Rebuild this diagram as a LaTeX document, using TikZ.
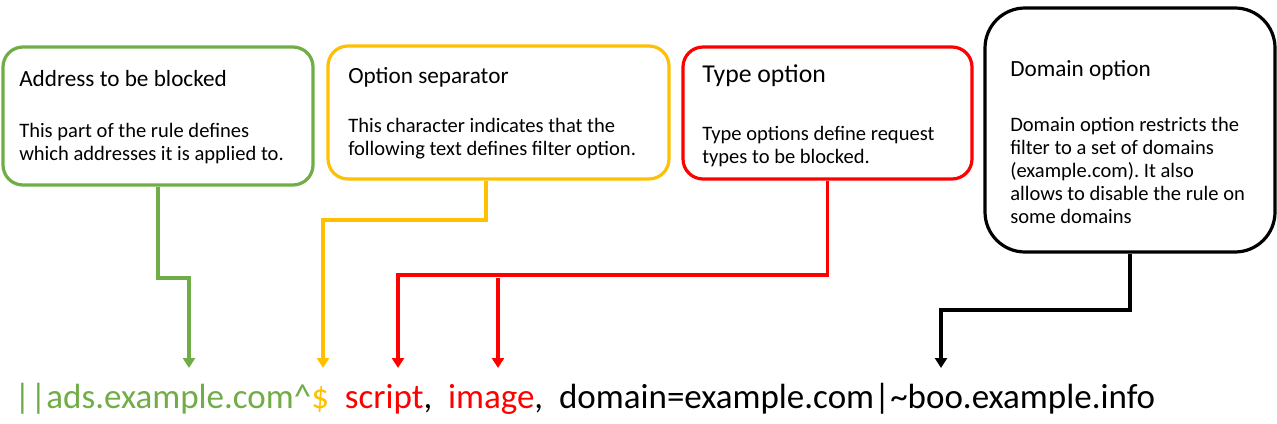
\documentclass[tikz,border=0pt]{standalone}
\usepackage{fontspec}
\setmainfont{Carlito}
\frenchspacing
\usetikzlibrary{arrows.meta}

\definecolor{adgreen}{HTML}{70AD47}
\definecolor{adyellow}{HTML}{FFC000}
\definecolor{adred}{HTML}{FF0000}

\tikzset{partbox/.style = {draw=#1, line width=2.4pt, rounded corners=15pt, inner sep=0pt},
         partbox/.default=black,
         link/.style = {draw=#1, line width=2.6pt, -{Triangle[width=9pt,length=7.5pt]}},
         link/.default=black,
         boxtitle/.style = {anchor=base west, inner sep=0pt, font=\fontsize{17.4}{20}\selectfont},
         boxtext/.style = {anchor=north west, inner sep=0pt, align=left, font=\fontsize{15.4}{17.4}\selectfont}
        }

\begin{document}
\begin{tikzpicture}[x=0.75pt, y=-0.75pt]
\useasboundingbox (0,0) rectangle (1277,424);
\node[partbox=adgreen, minimum width=232.5pt, minimum height=103.5pt] at (158,116) (gbox) {};
\node[partbox=adyellow, minimum width=255.75pt, minimum height=99.75pt] at (498.5,112.5) (ybox) {};
\node[partbox=adred, minimum width=216.75pt, minimum height=99pt] at (827.5,113) (rbox) {};
\node[partbox, rounded corners=30pt, minimum width=217.5pt, minimum height=183pt] at (1130,130) (dbox) {};

\node[boxtitle] at (19,87) (gtitle) {Address to be blocked};
\node[boxtext] at (19,123) (gtext) {This part of the rule defines\\which addresses it is applied to.};
\node[boxtitle] at (348,84) (ytitle) {Option separator};
\node[boxtext] at (348,118) (ytext) {This character indicates that the\\following text defines filter option.};
\node[boxtitle, font=\fontsize{19.3}{22}\selectfont] at (702,83) (rtitle) {Type option};
\node[boxtext] at (702,126) (rtext) {Type options define request\\types to be blocked.};
\node[boxtitle] at (1010,77) (dtitle) {Domain option};
\node[boxtext, font=\fontsize{15.4}{17.25}\selectfont] at (1010,117) (dtext) {Domain option restricts the\\filter to a set of domains\\(example.com). It also\\allows to disable the rule on\\some domains};

% the rule itself
\node[anchor=base west, inner sep=0pt, font=\fontsize{26.25}{30}\selectfont] at (14,408) (rule)
  {\textcolor{adgreen}{||ads.example.com\textasciicircum}\textcolor{adyellow}{\$}\ \ \textcolor{adred}{script},\ \ \textcolor{adred}{image},\ \ domain=example.com|\textasciitilde boo.example.info};

\coordinate (gknee) at (189,278);
\coordinate (gtip) at (189,368);
\coordinate (yknee) at (323,220);
\coordinate (ytip) at (323,368);
\coordinate (rknee) at (398,275);
\coordinate (rtip) at (398,368);
\coordinate (rtop) at (498,278);
\coordinate (rtip2) at (498,368);
\coordinate (dknee) at (941,310);
\coordinate (dtip) at (941,368);

\draw[link=adgreen] (gbox.south) |- (gknee) -- (gtip);
\draw[link=adyellow] ([xshift=-9.4pt]ybox.south) |- (yknee) -- (ytip);
\draw[link=adred] (rbox.south) |- (rknee) -- (rtip);
\draw[link=adred] (rtop) -- (rtip2);
\draw[link] (dbox.south) |- (dknee) -- (dtip);
\end{tikzpicture}
\end{document}
